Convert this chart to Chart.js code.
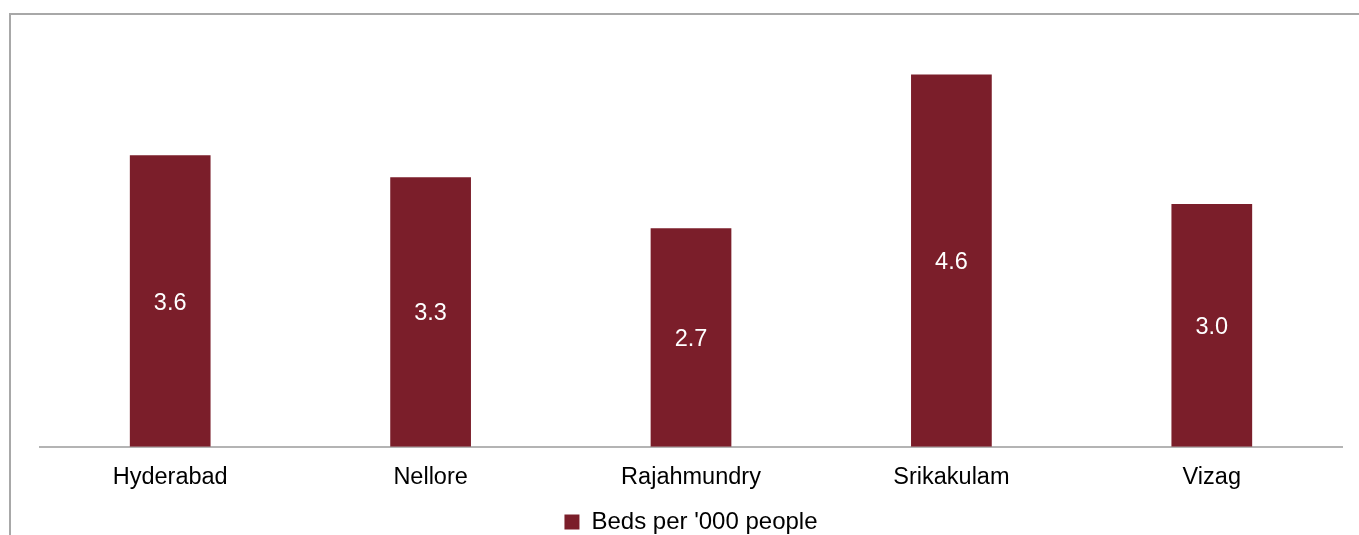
<!DOCTYPE html>
<html>
<head>
<meta charset="utf-8">
<script src="https://cdn.jsdelivr.net/npm/chart.js@4.4.0/dist/chart.umd.min.js"></script>
<style>
  html, body { margin: 0; padding: 0; background: #fff; overflow: hidden; }
  #marco { position: absolute; left: 9px; top: 13px; width: 2000px; height: 2000px;
           border-left: 2px solid #a8a8a8; border-top: 2px solid #a8a8a8; }
  #caja { position: absolute; left: 0; top: 0; width: 1359px; height: 544px; }
</style>
</head>
<body>
<div id="marco"></div>
<div id="caja"><canvas id="grafico"></canvas></div>
<script>
/* Datos del grafico */
var ciudades = ['Hyderabad', 'Nellore', 'Rajahmundry', 'Srikakulam', 'Vizag'];
var camas = [3.6, 3.33, 2.7, 4.6, 3.0];
var nombreSerie = "Beds per '000 people";

var colorBarra = '#7b1e2a';
var fuente = 'Liberation Sans, Arial, sans-serif';

/* Etiquetas blancas dentro de cada barra */
var etiquetas = {
    id: 'etiquetas',
    afterDatasetsDraw: function (chart) {
        var ctx = chart.ctx;
        var meta = chart.getDatasetMeta(0);
        ctx.save();
        ctx.fillStyle = '#ffffff';
        ctx.font = '23.5px ' + fuente;
        ctx.textAlign = 'center';
        ctx.textBaseline = 'middle';
        meta.data.forEach(function (barra, i) {
            var medio = (barra.y + barra.base) / 2;
            ctx.fillText(camas[i].toFixed(1), barra.x, medio + 2);
        });
        ctx.restore();
    }
};

var grafico = new Chart(document.getElementById('grafico').getContext('2d'), {
    type: 'bar',
    data: {
        labels: ciudades,
        datasets: [{
            label: nombreSerie,
            data: camas,
            backgroundColor: colorBarra,
            barPercentage: 0.31,
            categoryPercentage: 1
        }]
    },
    options: {
        responsive: true,
        maintainAspectRatio: false,
        animation: false,
        layout: { padding: { left: 40, right: 17, top: 42, bottom: 0 } },
        plugins: {
            tooltip: { enabled: false },
            legend: {
                position: 'bottom',
                labels: {
                    boxWidth: 15,
                    boxHeight: 15,
                    padding: 9,
                    color: '#000',
                    font: { family: fuente, size: 24 }
                }
            }
        },
        scales: {
            y: {
                display: false,
                min: 0,
                max: 5
            },
            x: {
                grid: { display: false },
                border: { color: '#b4b4b4', width: 2 },
                ticks: {
                    color: '#000',
                    padding: 9,
                    font: { family: fuente, size: 23.5 }
                }
            }
        }
    },
    plugins: [etiquetas]
});
</script>
</body>
</html>
